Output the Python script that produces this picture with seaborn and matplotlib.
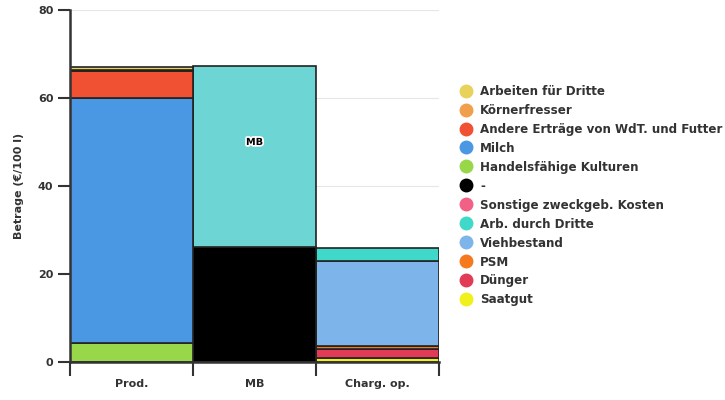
import pandas as pd
import matplotlib
matplotlib.use("Agg")
import matplotlib.pyplot as plt
import matplotlib.patheffects as pe
from matplotlib.lines import Line2D
import seaborn as sns

# categories on the x axis
categories = ["Prod.", "MB", "Charg. op."]

# stack components, top of the stack first (same as legend order)
components = ["Arbeiten für Dritte", "Körnerfresser", "Andere Erträge von WdT. und Futter",
              "Milch", "Handelsfähige Kulturen", "MB", "-", "Sonstige zweckgeb. Kosten",
              "Arb. durch Dritte", "Viehbestand", "PSM", "Dünger", "Saatgut"]

colors = ["#e8d25a", "#f0a04c", "#f05133", "#4a98e3", "#98d64a", "#6dd5d3", "#000000",
          "#f06185", "#40d9c9", "#7db4ea", "#f57a1e", "#e23b55", "#f0f01c"]

# values per category (€/100 l)
prod_values = [0.6, 0.3, 6.1, 55.7, 4.3, 0, 0, 0, 0, 0, 0, 0, 0]
mb_values = [0, 0, 0, 0, 0, 41.1, 26.1, 0, 0, 0, 0, 0, 0]
charg_values = [0, 0, 0, 0, 0, 0, 0, 0, 2.9, 19.35, 0.5, 2.2, 0.85]

rows = []
for cat, vals in zip(categories, [prod_values, mb_values, charg_values]):
    for comp, v in zip(components, vals):
        rows.append({"cat": cat, "comp": comp, "value": v})
df = pd.DataFrame(rows)
df["x"] = df["cat"].map({c: i for i, c in enumerate(categories)})

sns.set_style("white")
plt.rcParams["font.family"] = ["DejaVu Sans"]
dark = "#333333"

fig = plt.figure(figsize=(7.25, 4.0), dpi=100)
ax = fig.add_axes([70 / 725, 1 - 362 / 400, 369 / 725, 352 / 400])

sns.histplot(data=df, x="x", weights="value", hue="comp", hue_order=components,
             palette=dict(zip(components, colors)), multiple="stack", discrete=True,
             shrink=1, alpha=1, edgecolor="#222222", linewidth=1.2, legend=False, ax=ax)

# drop empty segments
for p in list(ax.patches):
    if p.get_height() <= 0:
        p.remove()

ax.set_xlim(-0.5, 2.5)
ax.set_ylim(0, 80)
ax.set_yticks([0, 20, 40, 60, 80])
ax.set_xticks(range(len(categories)))
ax.set_xticklabels(categories)
ax.set_xticks([-0.5, 0.5, 1.5, 2.5], minor=True)
ax.tick_params(axis="x", which="major", bottom=False, length=0, pad=12, labelsize=8, labelcolor=dark)
ax.tick_params(axis="x", which="minor", bottom=True, length=10, width=1.5, color=dark, direction="out")
ax.tick_params(axis="y", which="major", left=True, length=9, width=1.5, color=dark,
               direction="out", labelsize=8, labelcolor=dark, pad=3)
ax.tick_params(axis="y", which="minor", length=0)
for lbl in ax.get_xticklabels() + ax.get_yticklabels():
    lbl.set_fontweight("bold")

ax.set_xlabel("")
ax.set_ylabel("Betrage (€/100 l)", fontsize=8, fontweight="bold", color=dark, labelpad=10)
ax.yaxis.grid(True, color="#e6e6e6", linewidth=0.8)
ax.set_axisbelow(True)
sns.despine(ax=ax)
for s in ["left", "bottom"]:
    ax.spines[s].set_color(dark)
    ax.spines[s].set_linewidth(1.8)

ax.text(1, 50, "MB", ha="center", va="center", fontsize=7, fontweight="bold", color="black",
        path_effects=[pe.withStroke(linewidth=2.5, foreground="white")])

handles = [Line2D([0], [0], marker="o", linestyle="", markersize=9,
                  markerfacecolor=c, markeredgecolor=c)
           for comp, c in zip(components, colors) if comp != "MB"]
labels = [comp for comp in components if comp != "MB"]
leg = fig.legend(handles, labels, loc="upper left", bbox_to_anchor=(448 / 725, 1 - 74 / 400),
                 frameon=False, handletextpad=0.6, labelspacing=0.5, handlelength=1.2,
                 prop={"size": 8.6, "weight": "bold"})
for t in leg.get_texts():
    t.set_color(dark)

fig.savefig("out.png", dpi=100)
